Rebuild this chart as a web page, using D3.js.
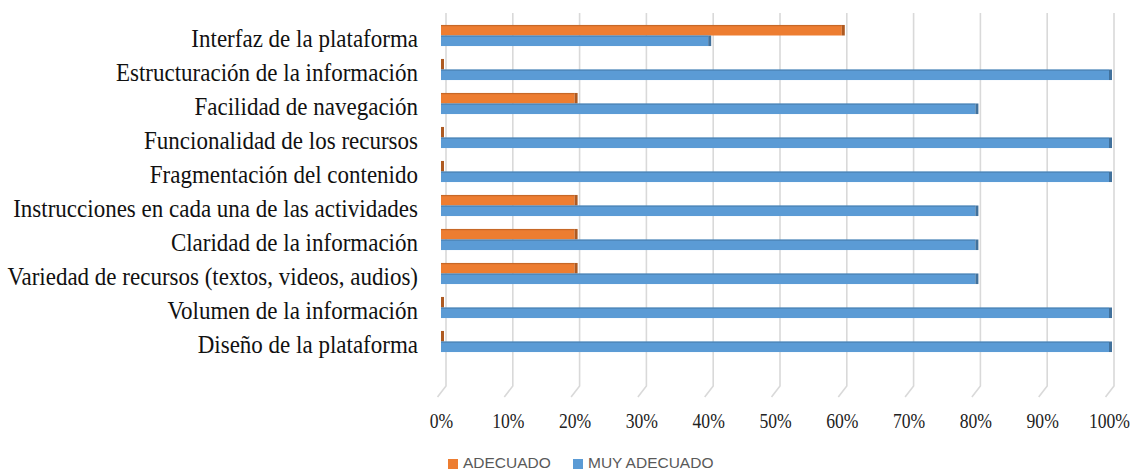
<!DOCTYPE html>
<html><head><meta charset="utf-8">
<script src="https://cdn.jsdelivr.net/npm/d3@7"></script>
<style>body{margin:0;background:#fff}svg{display:block}</style>
</head><body>
<script>
const categories = ["Interfaz de la plataforma","Estructuración de la información","Facilidad de navegación","Funcionalidad de los recursos","Fragmentación del contenido","Instrucciones en cada una de las actividades","Claridad de la información","Variedad de recursos (textos, videos, audios)","Volumen de la información","Diseño de la plataforma"];
const seriesNames = ["ADECUADO","MUY ADECUADO"];
const adecuado = [60,0,20,0,0,20,20,20,0,0];
const muyAdecuado = [40,100,80,100,100,80,80,80,100,100];
const tickValues = [0,10,20,30,40,50,60,70,80,90,100];
const colors = ["#ED7D31","#5B9BD5"];
const darks = ["#AE5A21","#41719C"];

const W=1131,H=472;
const svg=d3.select("body").append("svg").attr("width",W).attr("height",H);
const x=d3.scaleLinear().domain([0,100]).range([441,1109]);
const y=d3.scaleBand().domain(categories).range([18.5,358.5]).paddingInner(0.38).paddingOuter(0.19);
const ys=d3.scaleBand().domain(seriesNames).range([0,y.bandwidth()]);

// gridlines (3D back wall + floor edge)
const g=svg.append("g");
tickValues.forEach(t=>{
  const xx=x(t);
  g.append("path").attr("d",`M${xx+5},13V386L${xx-3.5},397`).attr("fill","none")
   .attr("stroke","#d9d9d9").attr("stroke-width",1.6);
});
// axis labels
const xAxis=d3.axisBottom(x).tickValues(tickValues).tickFormat(d=>d+"%").tickSize(0);
const ax=svg.append("g").call(xAxis);
ax.select(".domain").remove();
ax.selectAll("text").attr("font-family","Liberation Serif").attr("font-size",22).attr("fill","#222")
  .attr("y",428).attr("dy",0).attr("style","transform:scaleX(0.8)");

const data=[adecuado,muyAdecuado];
data.forEach((vals,si)=>{
  const s=seriesNames[si];
  const grp=svg.append("g");
  vals.forEach((v,i)=>{
    const yy=y(categories[i])+ys(s), h=ys.bandwidth();
    grp.append("rect").attr("x",x(0)).attr("y",yy).attr("width",x(v)-x(0)).attr("height",h).attr("fill",colors[si]);
    grp.append("rect").attr("x",x(0)).attr("y",yy).attr("width",x(v)-x(0)).attr("height",1.2).attr("fill",darks[si]).attr("opacity",0.6);
    grp.append("rect").attr("x",x(v)).attr("y",yy).attr("width",3).attr("height",h).attr("fill",darks[si]);
  });
});

// category labels
svg.append("g").selectAll("text").data(categories).join("text")
  .attr("transform",d=>`translate(418,${y(d)+y.bandwidth()/2+11.5}) scale(0.92,1)`)
  .attr("text-anchor","end").attr("font-family","Liberation Serif").attr("font-size",25)
  .attr("fill","#111")
  .text(d=>d);

// legend
const lg=svg.append("g").attr("font-family","Liberation Sans, Arial").attr("font-size",15.5).attr("fill","#595959");
const lx=[448,573];
seriesNames.forEach((s,i)=>{
  lg.append("rect").attr("x",lx[i]).attr("y",459).attr("width",10).attr("height",10).attr("fill",colors[i]);
  lg.append("text").attr("x",lx[i]+15).attr("y",468).text(s);
});
</script>
</body></html>
